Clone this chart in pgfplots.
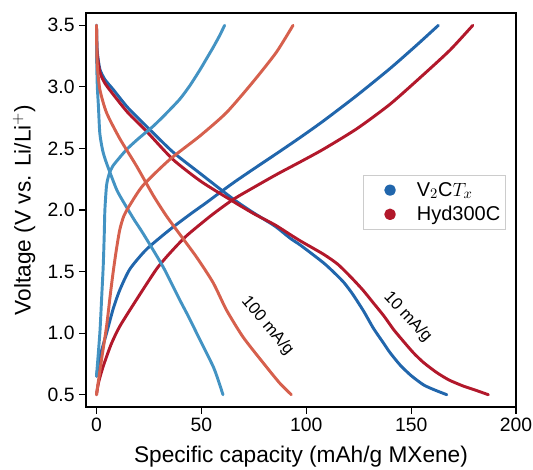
\documentclass[border=0pt]{standalone}
\usepackage{pgfplots}
\pgfplotsset{compat=1.18}
\usepackage{fontspec}
\setmainfont{Liberation Sans}

\definecolor{dkblue}{HTML}{2166AC}
\definecolor{ltblue}{HTML}{4393C3}
\definecolor{dkred}{HTML}{B2182B}
\definecolor{ltred}{HTML}{D6604D}

\begin{document}
\begin{tikzpicture}
\begin{axis}[
    name=ax,
    scale only axis,
    width=322.5pt, height=295.5pt,
    xmin=-5, xmax=200,
    ymin=0.4, ymax=3.6,
    xtick={0,50,100,150,200},
    ytick={0.5,1.0,1.5,2.0,2.5,3.0,3.5},
    yticklabel style={/pgf/number format/.cd, fixed, fixed zerofill, precision=1},
    /pgf/number format/assume math mode=true,
    tick pos=left,
    tick align=outside,
    major tick length=5pt,
    every tick/.style={black, line width=0.9pt},
    axis line style={line width=1pt},
    tick label style={font=\fontsize{14.5}{17}\selectfont},
    label style={font=\fontsize{17}{20}\selectfont},
    xlabel={Specific capacity (mAh/g MXene)},
    ylabel={Voltage (V vs. Li/Li$^{+}$)},
    xlabel style={at={(axis description cs:0.5,-0.126)}, anchor=center},
    ylabel style={at={(axis description cs:-0.144,0.5)}, anchor=center},
    every axis plot/.append style={line width=2.2pt, no markers, smooth, tension=0.4,
        line join=round, line cap=round},
    legend style={at={(0.977,0.589)}, anchor=north east, draw=black!20, line width=0.8pt,
        fill=white, font=\fontsize{15}{18}\selectfont, inner xsep=2pt, inner ysep=3pt,
        row sep=2pt},
    legend cell align=left,
]
% V2CTx, 10 mA/g, discharge
\addplot[dkblue, forget plot] coordinates {
(0,3.5)(0.3,3.3)(1.6,3.145)(4,3.06)(7.9,2.98)(15,2.83)(23.8,2.68)(36.5,2.47)(49.2,2.30)
(65.1,2.09)(74.6,1.98)(85,1.87)(92.4,1.77)(97.6,1.71)(108.3,1.57)(114,1.48)(118,1.41)(122,1.32)
(127.3,1.18)(132,1.04)(136.8,0.92)(140,0.84)(144.8,0.74)(150,0.655)(155.9,0.58)(161,0.54)(167,0.5)
};
% V2CTx, 10 mA/g, charge
\addplot[dkblue, forget plot] coordinates {
(0,0.65)(1.5,0.8)(4.8,1.0)(8,1.2)(11.1,1.35)(15.9,1.52)(23.8,1.68)(34.9,1.84)(45,1.97)
(52.4,2.06)(58.7,2.14)(66,2.23)(74.6,2.33)(86,2.46)(97.6,2.595)(108.3,2.725)(124.1,2.93)(140,3.15)
(152.7,3.34)(163,3.5)
};
% Hyd300C, 10 mA/g, discharge
\addplot[dkred, forget plot] coordinates {
(0,3.5)(0.3,3.28)(1.6,3.12)(4,3.03)(7.9,2.94)(15,2.79)(23.8,2.64)(36.5,2.41)(50,2.23)
(65.1,2.07)(75,1.97)(85,1.88)(92.4,1.80)(97.6,1.745)(108.3,1.64)(115,1.56)(121,1.46)
(127,1.35)(132,1.245)(137,1.14)(141.6,1.03)(146,0.94)(151.1,0.84)(156,0.76)(162.2,0.68)
(168,0.62)(174.9,0.57)(181,0.535)(186.8,0.5)
};
% Hyd300C, 10 mA/g, charge
\addplot[dkred, forget plot] coordinates {
(0,0.5)(1,0.6)(3.2,0.73)(7,0.91)(11.1,1.055)(19,1.27)(28.6,1.52)(35,1.65)(42.9,1.79)
(55,1.96)(65.1,2.085)(74.6,2.18)(86,2.29)(97.6,2.395)(108.3,2.495)(124.1,2.66)(140,2.86)
(155.9,3.10)(168.6,3.30)(179.4,3.5)
};
% V2CTx, 100 mA/g, discharge
\addplot[ltblue, forget plot] coordinates {
(0,3.5)(0.1,3.2)(0.4,3.0)(0.9,2.85)(1.6,2.62)(3,2.48)(4.8,2.38)(9.5,2.17)(12.7,2.07)
(18,1.92)(22.2,1.81)(31.7,1.54)(39.7,1.27)(44,1.13)(49.2,0.95)(55.6,0.73)(58,0.62)(60.3,0.5)
};
% V2CTx, 100 mA/g, charge
\addplot[ltblue, forget plot] coordinates {
(0,0.65)(1.6,1.0)(2.5,1.3)(3.2,1.54)(3.7,1.8)(4,2.0)(4.8,2.2)(6,2.29)(7.9,2.36)(14.3,2.49)
(20,2.58)(27,2.68)(33,2.78)(39.7,2.90)(44.5,3.01)(49.2,3.135)(52.5,3.23)(55.6,3.32)(58.5,3.41)(61.1,3.5)
};
% Hyd300C, 100 mA/g, discharge
\addplot[ltred, forget plot] coordinates {
(0,3.5)(0.3,3.2)(1.6,2.98)(4.8,2.79)(11.1,2.58)(19,2.36)(27,2.12)(33,1.96)(38.1,1.84)
(47.6,1.62)(55.6,1.41)(61.9,1.19)(69.8,0.97)(79.4,0.76)(87.3,0.595)(92.9,0.5)
};
% Hyd300C, 100 mA/g, charge
\addplot[ltred, forget plot] coordinates {
(0,0.5)(1,0.62)(2.4,0.785)(4.8,1.055)(6.5,1.3)(7.9,1.49)(9.5,1.68)(11.1,1.84)(13,1.95)
(15.9,2.04)(22.2,2.2)(34.9,2.41)(49.2,2.60)(61.9,2.79)(74.6,3.04)(85.7,3.28)(93.7,3.5)
};

\addlegendimage{legend image code/.code={\path (0pt,0pt) (34pt,0pt); \fill[dkblue] (17pt,0pt) circle (3.2pt);}}
\addlegendentry{V$_2$C$T_x$}
\addlegendimage{legend image code/.code={\path (0pt,0pt) (34pt,0pt); \fill[dkred] (17pt,0pt) circle (3.2pt);}}
\addlegendentry{Hyd300C}

\node[rotate=-50, font=\fontsize{12.5}{15}\selectfont] at (axis cs:81.5,1.06) {100 mA/g};
\node[rotate=-47, font=\fontsize{12.5}{15}\selectfont] at (axis cs:148.3,1.13) {10 mA/g};

\coordinate (bbA) at (rel axis cs:-0.2,-0.1574);
\coordinate (bbB) at (rel axis cs:1.0395,1.033);
\end{axis}
\pgfresetboundingbox
\path (bbA) rectangle (bbB);
\end{tikzpicture}
\end{document}
